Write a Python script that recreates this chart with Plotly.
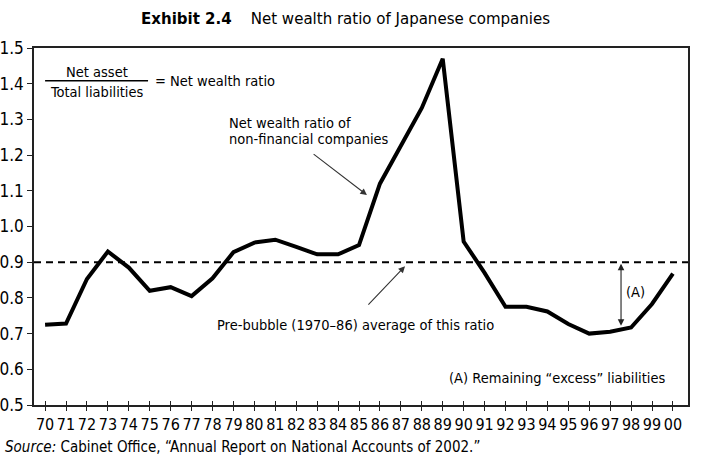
import plotly.graph_objects as go

# ---- data ----
year_labels = ["70", "71", "72", "73", "74", "75", "76", "77", "78", "79",
               "80", "81", "82", "83", "84", "85", "86", "87", "88", "89",
               "90", "91", "92", "93", "94", "95", "96", "97", "98", "99", "00"]
net_wealth_ratio = [0.725, 0.728, 0.853, 0.930, 0.885, 0.820, 0.830, 0.805, 0.855, 0.928,
                    0.955, 0.963, 0.943, 0.922, 0.922, 0.948, 1.120, 1.225, 1.332, 1.470,
                    0.958, 0.870, 0.775, 0.775, 0.762, 0.727, 0.700, 0.705, 0.717, 0.783, 0.868]
pre_bubble_avg = 0.9
y_ticks = [0.5, 0.6, 0.7, 0.8, 0.9, 1.0, 1.1, 1.2, 1.3, 1.4, 1.5]

x_idx = list(range(len(year_labels)))
FONT = "DejaVu Sans Condensed, Liberation Sans Narrow, Arial Narrow, sans-serif"
XR = [-0.53, 30.72]

fig = go.Figure()
fig.add_trace(go.Scatter(x=[XR[0], XR[1]], y=[pre_bubble_avg, pre_bubble_avg], mode="lines",
                         line=dict(color="black", width=2, dash="7px,5px"),
                         hoverinfo="skip", showlegend=False))
fig.add_trace(go.Scatter(x=x_idx, y=net_wealth_ratio, mode="lines",
                         line=dict(color="black", width=4), showlegend=False))
# invisible trace for the overlay axis (inside tick marks)
fig.add_trace(go.Scatter(x=[0], y=[1], xaxis="x2", yaxis="y2", mode="markers",
                         marker=dict(opacity=0), hoverinfo="skip", showlegend=False))

ann = []
def A(text, x, y, size=14.5, xanchor="center", yanchor="middle", **kw):
    ann.append(dict(text=text, x=x, y=y, xref="x", yref="y", showarrow=False,
                    xanchor=xanchor, yanchor=yanchor,
                    font=dict(family=FONT, size=size, color="black"), **kw))

# fraction
A("Net asset", 2.48, 1.433)
A("Total liabilities", 2.48, 1.377)
A("= Net wealth ratio", 5.16, 1.408, xanchor="left")
A("Net wealth ratio of", 8.70, 1.290, xanchor="left")
A("non-financial companies", 8.70, 1.245, xanchor="left")
A("Pre-bubble (1970\u201386) average of this ratio", 8.12, 0.724, xanchor="left")
A("(A) Remaining \u201cexcess\u201d liabilities", 19.2, 0.576, xanchor="left")
A("(A)", 28.19, 0.817)

# arrows
ann.append(dict(x=15.38, y=1.088, ax=12.76, ay=1.206, xref="x", yref="y", axref="x", ayref="y",
                text="", showarrow=True, arrowhead=2, arrowsize=1.2, arrowwidth=1.1, arrowcolor="#333"))
ann.append(dict(x=17.2, y=0.889, ax=15.38, ay=0.777, xref="x", yref="y", axref="x", ayref="y",
                text="", showarrow=True, arrowhead=2, arrowsize=1.2, arrowwidth=1.1, arrowcolor="#333"))
ann.append(dict(x=27.52, y=0.722, ax=27.52, ay=0.900, xref="x", yref="y", axref="x", ayref="y",
                text="", showarrow=True, arrowhead=2, startarrowhead=2, arrowside="end+start",
                arrowsize=1.2, startarrowsize=1.2, arrowwidth=1.1, arrowcolor="#222"))

# title and source
ann.append(dict(text="<b>Exhibit 2.4</b>    Net wealth ratio of Japanese companies",
                x=0.477, y=1.084, xref="paper", yref="paper", showarrow=False,
                xanchor="center", yanchor="middle",
                font=dict(family=FONT, size=16.7, color="black")))
ann.append(dict(text="<i>Source:</i> Cabinet Office, \u201cAnnual Report on National Accounts of 2002.\u201d",
                x=-0.047, y=-0.118, xref="paper", yref="paper", showarrow=False,
                xanchor="left", yanchor="middle",
                font=dict(family=FONT, size=15, color="black")))

fig.update_layout(
    width=703, height=464,
    margin=dict(l=34, r=15, t=48, b=59, autoexpand=False),
    paper_bgcolor="white", plot_bgcolor="white",
    annotations=ann,
    shapes=[dict(type="line", xref="x", yref="y", x0=0, x1=4.92, y0=1.408, y1=1.408,
                 line=dict(color="black", width=1.5))],
    xaxis=dict(range=XR, tickmode="array", tickvals=x_idx, ticktext=year_labels,
               showgrid=False, zeroline=False, showline=True, mirror=True,
               linecolor="#222", linewidth=1.5, ticks="outside", ticklen=4,
               tickcolor="#222", tickwidth=1.2, tickangle=0, automargin=False,
               tickfont=dict(family=FONT, size=16, color="black")),
    yaxis=dict(range=[0.5, 1.5], tickmode="array", tickvals=y_ticks,
               ticktext=[f"{v:.1f}" for v in y_ticks],
               showgrid=False, zeroline=False, showline=True, mirror=True,
               linecolor="#222", linewidth=1.5, ticks="outside", ticklen=5,
               tickcolor="#222", tickwidth=1.2, automargin=False,
               tickfont=dict(family=FONT, size=17, color="black")),
    xaxis2=dict(range=XR, overlaying="x", tickmode="array", tickvals=x_idx,
                showticklabels=False, ticks="inside", ticklen=4, tickcolor="#222",
                tickwidth=1.2, showgrid=False, zeroline=False, showline=False,
                side="bottom", anchor="y2", automargin=False),
    yaxis2=dict(range=[0.5, 1.5], overlaying="y", showticklabels=False, ticks="",
                showgrid=False, zeroline=False, showline=False, automargin=False),
)

fig.write_html("out.html", config={"displayModeBar": False},
               post_script="document.body.style.margin='0';")
